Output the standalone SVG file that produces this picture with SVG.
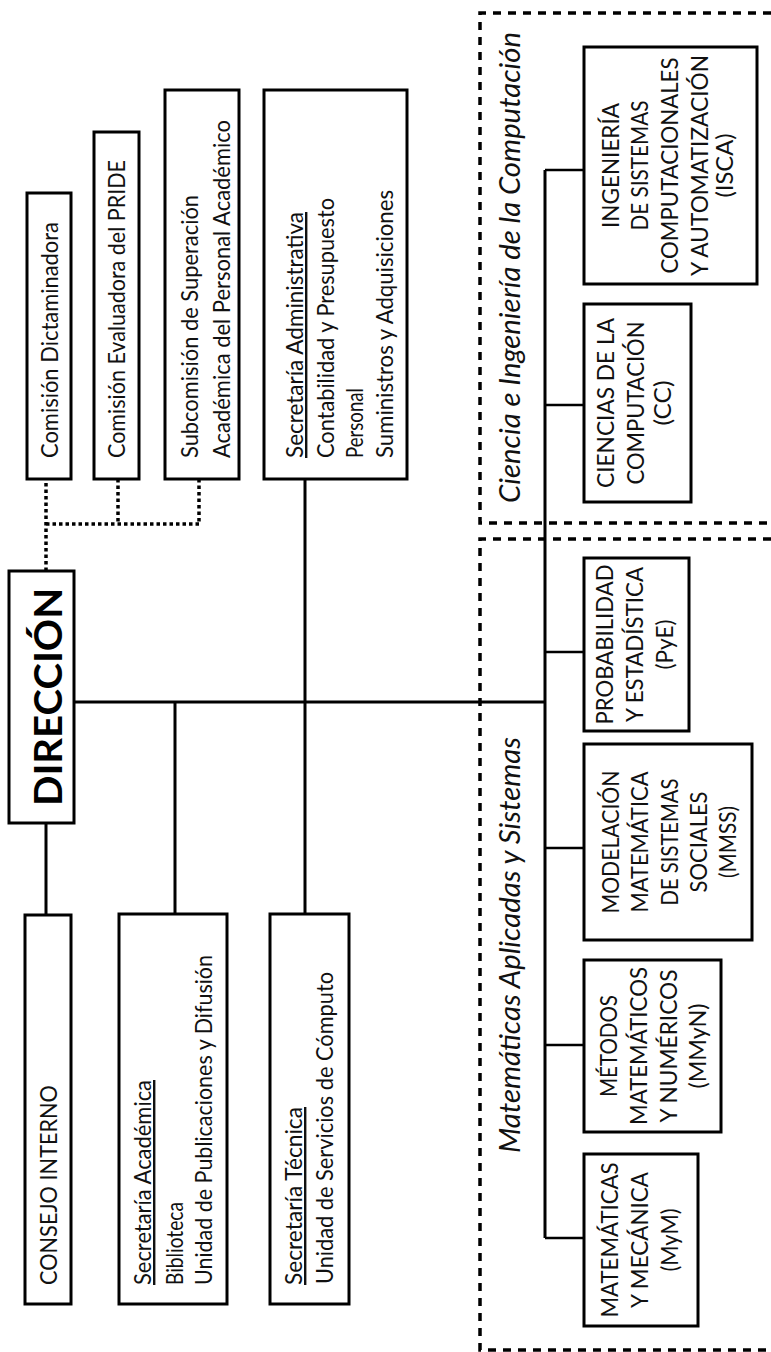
<svg xmlns="http://www.w3.org/2000/svg" width="771" height="1352" viewBox="0 0 771 1352">
<style>
.box{fill:#fff;stroke:#000;stroke-width:3}
.t{font-family:Lato,"Open Sans","Noto Sans",sans-serif;font-size:24px;fill:#111}
.k{font-size:23px}
.c{text-anchor:middle}
.u{text-decoration:underline}
.dir{font-weight:bold;font-size:38px;fill:#000}
.it{font-style:italic;font-size:29px}
.ln{stroke:#000;stroke-width:3;fill:none}
.br{stroke:#000;stroke-width:2.5;fill:none}
.dot{stroke:#000;stroke-width:3.5;fill:none;stroke-dasharray:3.5 3}
.reg{stroke:#000;stroke-width:3.5;fill:none;stroke-dasharray:8 7}
</style>
<rect width="771" height="1352" fill="#fff"/>
<g id="regions">
<path class="reg" d="M771 13 H480 V523 H771"/>
<path class="reg" d="M771 539 H480 V1350 H771"/>
<text class="t it" transform="translate(520,503) rotate(-90)" textLength="471" lengthAdjust="spacingAndGlyphs">Ciencia e Ingeniería de la Computación</text>
<text class="t it" transform="translate(520,1153) rotate(-90)" textLength="416" lengthAdjust="spacingAndGlyphs">Matemáticas Aplicadas y Sistemas</text>
</g>
<g id="connectors">
<path class="ln" d="M74 702 H545"/>
<path class="ln" d="M545 170 V1238"/>
<path class="br" d="M545 170 H584 M545 405 H584 M545 652 H584 M545 848 H584 M545 1045 H584 M545 1238 H584"/>
<path class="ln" d="M46 823 V915 M175 702 V914 M305 479 V914"/>
<path class="dot" d="M46 571 V479 M46 524 H199 M118 479 V524 M199 479 V524"/>
</g>
<g id="dictaminadora">
<rect class="box" x="27" y="193" width="44" height="286"/>
<text class="t" transform="translate(58,458) rotate(-90)" textLength="236" lengthAdjust="spacingAndGlyphs">Comisión Dictaminadora</text>
</g>
<g id="pride">
<rect class="box" x="94" y="132" width="45" height="347"/>
<text class="t" transform="translate(125,458) rotate(-90)" textLength="298" lengthAdjust="spacingAndGlyphs">Comisión Evaluadora del PRIDE</text>
</g>
<g id="subcomision">
<rect class="box" x="165" y="90" width="74" height="389"/>
<text class="t" transform="translate(198,458) rotate(-90)" textLength="263" lengthAdjust="spacingAndGlyphs">Subcomisión de Superación</text>
<text class="t" transform="translate(230,458) rotate(-90)" textLength="338" lengthAdjust="spacingAndGlyphs">Académica del Personal Académico</text>
</g>
<g id="sec-administrativa">
<rect class="box" x="264" y="90" width="143" height="389"/>
<text class="t u" transform="translate(303,458) rotate(-90)" textLength="246" lengthAdjust="spacingAndGlyphs">Secretaría Administrativa</text>
<text class="t" transform="translate(334,458) rotate(-90)" textLength="260" lengthAdjust="spacingAndGlyphs">Contabilidad y Presupuesto</text>
<text class="t" transform="translate(363,458) rotate(-90)" textLength="70" lengthAdjust="spacingAndGlyphs">Personal</text>
<text class="t" transform="translate(393,458) rotate(-90)" textLength="268" lengthAdjust="spacingAndGlyphs">Suministros y Adquisiciones</text>
</g>
<g id="direccion">
<rect class="box" x="9" y="571" width="65" height="252"/>
<text class="t c dir" transform="translate(62,697) rotate(-90)" textLength="218" lengthAdjust="spacingAndGlyphs">DIRECCIÓN</text>
</g>
<g id="consejo">
<rect class="box" x="25" y="915" width="46" height="389"/>
<text class="t k" transform="translate(57,1285) rotate(-90)" textLength="200" lengthAdjust="spacingAndGlyphs">CONSEJO INTERNO</text>
</g>
<g id="sec-academica">
<rect class="box" x="119" y="914" width="108" height="390"/>
<text class="t u" transform="translate(151,1285) rotate(-90)" textLength="205" lengthAdjust="spacingAndGlyphs">Secretaría Académica</text>
<text class="t" transform="translate(183,1285) rotate(-90)" textLength="83" lengthAdjust="spacingAndGlyphs">Biblioteca</text>
<text class="t" transform="translate(212,1285) rotate(-90)" textLength="330" lengthAdjust="spacingAndGlyphs">Unidad de Publicaciones y Difusión</text>
</g>
<g id="sec-tecnica">
<rect class="box" x="270" y="914" width="79" height="390"/>
<text class="t u" transform="translate(302,1285) rotate(-90)" textLength="178" lengthAdjust="spacingAndGlyphs">Secretaría Técnica</text>
<text class="t" transform="translate(333,1284) rotate(-90)" textLength="312" lengthAdjust="spacingAndGlyphs">Unidad de Servicios de Cómputo</text>
</g>
<g id="isca">
<rect class="box" x="584" y="47" width="173" height="237"/>
<text class="t k c" transform="translate(619,165.5) rotate(-90)" textLength="125" lengthAdjust="spacingAndGlyphs">INGENIERÍA</text>
<text class="t k c" transform="translate(648,165.5) rotate(-90)" textLength="130" lengthAdjust="spacingAndGlyphs">DE SISTEMAS</text>
<text class="t k c" transform="translate(678,165.5) rotate(-90)" textLength="216" lengthAdjust="spacingAndGlyphs">COMPUTACIONALES</text>
<text class="t k c" transform="translate(708,165.5) rotate(-90)" textLength="221" lengthAdjust="spacingAndGlyphs">Y AUTOMATIZACIÓN</text>
<text class="t k c" transform="translate(733,165.5) rotate(-90)" textLength="64" lengthAdjust="spacingAndGlyphs">(ISCA)</text>
</g>
<g id="cc">
<rect class="box" x="584" y="304" width="107" height="198"/>
<text class="t k c" transform="translate(614,403) rotate(-90)" textLength="170" lengthAdjust="spacingAndGlyphs">CIENCIAS DE LA</text>
<text class="t k c" transform="translate(644,403) rotate(-90)" textLength="163" lengthAdjust="spacingAndGlyphs">COMPUTACIÓN</text>
<text class="t k c" transform="translate(671,403) rotate(-90)" textLength="45" lengthAdjust="spacingAndGlyphs">(CC)</text>
</g>
<g id="pye">
<rect class="box" x="584" y="558" width="105" height="173"/>
<text class="t k c" transform="translate(613,644.5) rotate(-90)" textLength="160" lengthAdjust="spacingAndGlyphs">PROBABILIDAD</text>
<text class="t k c" transform="translate(643,644.5) rotate(-90)" textLength="155" lengthAdjust="spacingAndGlyphs">Y ESTADÍSTICA</text>
<text class="t k c" transform="translate(673,644.5) rotate(-90)" textLength="50" lengthAdjust="spacingAndGlyphs">(PyE)</text>
</g>
<g id="mmss">
<rect class="box" x="584" y="744" width="168" height="196"/>
<text class="t k c" transform="translate(619,842) rotate(-90)" textLength="143" lengthAdjust="spacingAndGlyphs">MODELACIÓN</text>
<text class="t k c" transform="translate(648,842) rotate(-90)" textLength="141" lengthAdjust="spacingAndGlyphs">MATEMÁTICA</text>
<text class="t k c" transform="translate(678,842) rotate(-90)" textLength="127" lengthAdjust="spacingAndGlyphs">DE SISTEMAS</text>
<text class="t k c" transform="translate(707,842) rotate(-90)" textLength="101" lengthAdjust="spacingAndGlyphs">SOCIALES</text>
<text class="t k c" transform="translate(736,842) rotate(-90)" textLength="72" lengthAdjust="spacingAndGlyphs">(MMSS)</text>
</g>
<g id="mmyn">
<rect class="box" x="584" y="960" width="137" height="172"/>
<text class="t k c" transform="translate(617,1046) rotate(-90)" textLength="102" lengthAdjust="spacingAndGlyphs">MÉTODOS</text>
<text class="t k c" transform="translate(647,1046) rotate(-90)" textLength="158" lengthAdjust="spacingAndGlyphs">MATEMÁTICOS</text>
<text class="t k c" transform="translate(677,1046) rotate(-90)" textLength="153" lengthAdjust="spacingAndGlyphs">Y NUMÉRICOS</text>
<text class="t k c" transform="translate(706,1046) rotate(-90)" textLength="85" lengthAdjust="spacingAndGlyphs">(MMyN)</text>
</g>
<g id="mym">
<rect class="box" x="584" y="1154" width="114" height="172"/>
<text class="t k c" transform="translate(618,1240) rotate(-90)" textLength="155" lengthAdjust="spacingAndGlyphs">MATEMÁTICAS</text>
<text class="t k c" transform="translate(648,1240) rotate(-90)" textLength="136" lengthAdjust="spacingAndGlyphs">Y MECÁNICA</text>
<text class="t k c" transform="translate(678,1240) rotate(-90)" textLength="63" lengthAdjust="spacingAndGlyphs">(MyM)</text>
</g>
</svg>
